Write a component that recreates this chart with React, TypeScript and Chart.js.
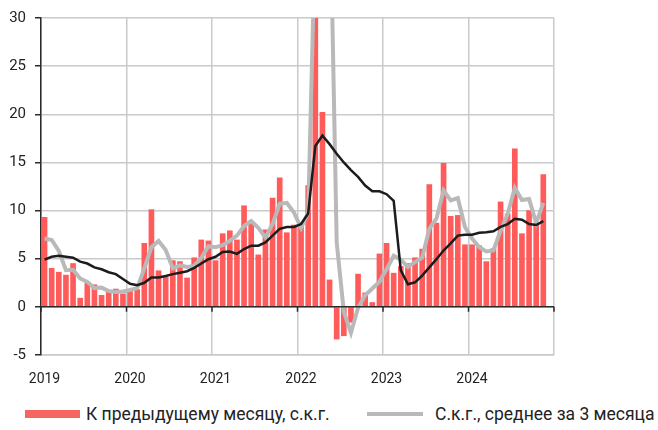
import React, { useEffect, useRef } from "react";
import { Chart, registerables } from "chart.js";
Chart.register(...registerables);

// Monthly data, Jan 2019 .. Dec 2024 (Dec 2024 not available)
const yearLabels = ["2019", "2020", "2021", "2022", "2023", "2024"];

const barValues: (number | null)[] = [
  9.3, 4.0, 3.6, 3.3, 4.5, 0.9, 2.5, 2.3, 1.2, 1.6, 1.85, 1.35,
  1.7, 1.8, 6.6, 10.1, 3.75, 3.1, 4.8, 4.7, 3.0, 5.1, 6.95, 6.85,
  4.8, 7.6, 7.9, 6.95, 10.5, 8.9, 5.4, 8.0, 11.3, 13.4, 7.7, 8.5,
  8.3, 12.6, 38, 20.2, 2.8, -3.35, -3.0, -1.6, 3.4, 1.45, 0.45, 5.5,
  6.6, 3.5, 4.2, 4.5, 5.1, 6.0, 12.7, 8.7, 14.9, 9.4, 9.5, 6.45,
  6.45, 6.35, 4.7, 6.05, 10.9, 9.65, 16.4, 7.6, 10.0, 8.7, 13.75, null,
];

const grayValues: (number | null)[] = [
  7.1, 6.95, 5.8, 3.8, 3.85, 2.95, 2.6, 1.95, 2.0, 1.65, 1.55, 1.6,
  1.75, 1.95, 4.0, 6.2, 6.85, 5.9, 4.0, 4.3, 4.15, 4.25, 5.1, 6.3,
  6.2, 6.4, 6.85, 7.4, 8.4, 8.9, 8.2, 7.2, 8.6, 10.7, 10.8, 9.8,
  8.2, 9.8, 39, 52, 45, 6.7, -0.5, -2.7, -0.1, 1.2, 1.9, 2.6,
  3.9, 5.3, 4.9, 4.15, 4.65, 5.1, 8.1, 9.15, 12.1, 11.05, 11.3, 8.3,
  7.1, 6.2, 5.75, 5.85, 7.9, 9.65, 12.35, 11.1, 11.2, 8.7, 10.8, null,
];

const blackValues: (number | null)[] = [
  4.9, 5.2, 5.3, 5.2, 5.1, 4.7, 4.5, 4.1, 3.9, 3.6, 3.4, 2.9,
  2.4, 2.25, 2.5, 3.05, 3.05, 3.2, 3.4, 3.55, 3.7, 4.05, 4.5, 4.95,
  5.2, 5.7, 5.75, 5.5, 6.0, 6.35, 6.35, 6.7, 7.4, 8.1, 8.3, 8.3,
  8.6, 9.7, 16.7, 17.8, 16.9, 15.9, 15.0, 14.2, 13.5, 12.6, 12.0, 12.0,
  11.7, 11.0, 3.8, 2.35, 2.55, 3.25, 4.1, 4.95, 5.85, 6.6, 7.4, 7.5,
  7.5, 7.7, 7.75, 7.85, 8.3, 8.6, 9.15, 9.05, 8.6, 8.5, 8.9, null,
];

const legendLabels = ["К предыдущему месяцу, с.к.г.", "С.к.г., среднее за 3 месяца"];

const RED = "#ff5b5b";
const GRAY = "#b9b9b9";
const BLACK = "#1c1c1c";
const GRID = "#cacaca";
const FONT = "Roboto, 'Noto Sans', sans-serif";

export default function App() {
  const ref = useRef<HTMLCanvasElement>(null);

  useEffect(() => {
    const toPts = (arr: (number | null)[]) => arr.map((v, i) => ({ x: i + 0.5, y: v }));

    const zeroLine = {
      id: "zeroLine",
      afterDatasetsDraw(chart: any) {
        const { ctx, scales, chartArea } = chart;
        const y0 = scales.y.getPixelForValue(0);
        ctx.save();
        ctx.strokeStyle = "#2a2a2a";
        ctx.lineWidth = 1.5;
        ctx.beginPath();
        ctx.moveTo(chartArea.left, y0);
        ctx.lineTo(chartArea.right, y0);
        for (let m = 0; m <= 72; m += 12) {
          const x = scales.x.getPixelForValue(m);
          ctx.moveTo(x, y0);
          ctx.lineTo(x, y0 + 5);
        }
        ctx.stroke();
        ctx.restore();
      },
    };

    const chart = new Chart(ref.current as HTMLCanvasElement, {
      type: "bar",
      data: {
        datasets: [
          {
            type: "line",
            label: "black",
            data: toPts(blackValues),
            borderColor: BLACK,
            borderWidth: 2.5,
            pointRadius: 0,
            tension: 0,
            order: 0,
          } as any,
          {
            type: "line",
            label: legendLabels[1],
            data: toPts(grayValues),
            borderColor: GRAY,
            borderWidth: 4,
            pointRadius: 0,
            tension: 0,
            order: 1,
          } as any,
          {
            type: "bar",
            label: legendLabels[0],
            data: toPts(barValues),
            backgroundColor: RED,
            barThickness: 5,
            order: 2,
          } as any,
        ],
      },
      options: {
        animation: false,
        responsive: false,
        layout: { padding: { top: 17, right: 104, left: 0, bottom: 0 } },
        plugins: { legend: { display: false }, tooltip: { enabled: false } },
        scales: {
          x: {
            type: "linear",
            min: 0,
            max: 72,
            offset: false,
            afterFit: (s: any) => { s.height = 40; },
            ticks: {
              stepSize: 12,
              autoSkip: false,
              maxRotation: 0,
              labelOffset: 3.5,
              padding: 16,
              color: "#222",
              font: { family: FONT, size: 14 },
              callback: (v: any) => (v % 12 === 0 && v < 72 ? yearLabels[v / 12] : ""),
            },
            grid: { color: GRID, lineWidth: 1.5, drawTicks: false, offset: false },
            border: { color: GRID, width: 1.5 },
          },
          y: {
            min: -5,
            max: 30,
            afterFit: (s: any) => { s.width = 41; },
            ticks: {
              stepSize: 5,
              padding: 9,
              color: "#222",
              font: { family: FONT, size: 15 },
            },
            grid: { color: GRID, lineWidth: 1.5, tickColor: "#2a2a2a", tickLength: 6 },
            border: { color: "#2a2a2a", width: 1.5 },
          },
        },
      },
      plugins: [zeroLine],
    } as any);
    return () => chart.destroy();
  }, []);

  return (
    <div style={{ position: "fixed", left: 0, top: 0, width: 658, height: 430, background: "#fff", fontFamily: FONT }}>
      <canvas ref={ref} width={658} height={395} style={{ position: "absolute", left: 0, top: 0 }} />
      <div style={{ position: "absolute", left: 25, top: 410, width: 55, height: 8, background: "#f4665f" }} />
      <div style={{ position: "absolute", left: 86, top: 402, fontSize: 17.5, lineHeight: "24px", color: "#222", whiteSpace: "nowrap" }}>
        {legendLabels[0]}
      </div>
      <div style={{ position: "absolute", left: 367, top: 412, width: 56, height: 4, background: GRAY }} />
      <div style={{ position: "absolute", left: 435, top: 402, fontSize: 17.5, lineHeight: "24px", color: "#222", whiteSpace: "nowrap" }}>
        {legendLabels[1]}
      </div>
    </div>
  );
}
